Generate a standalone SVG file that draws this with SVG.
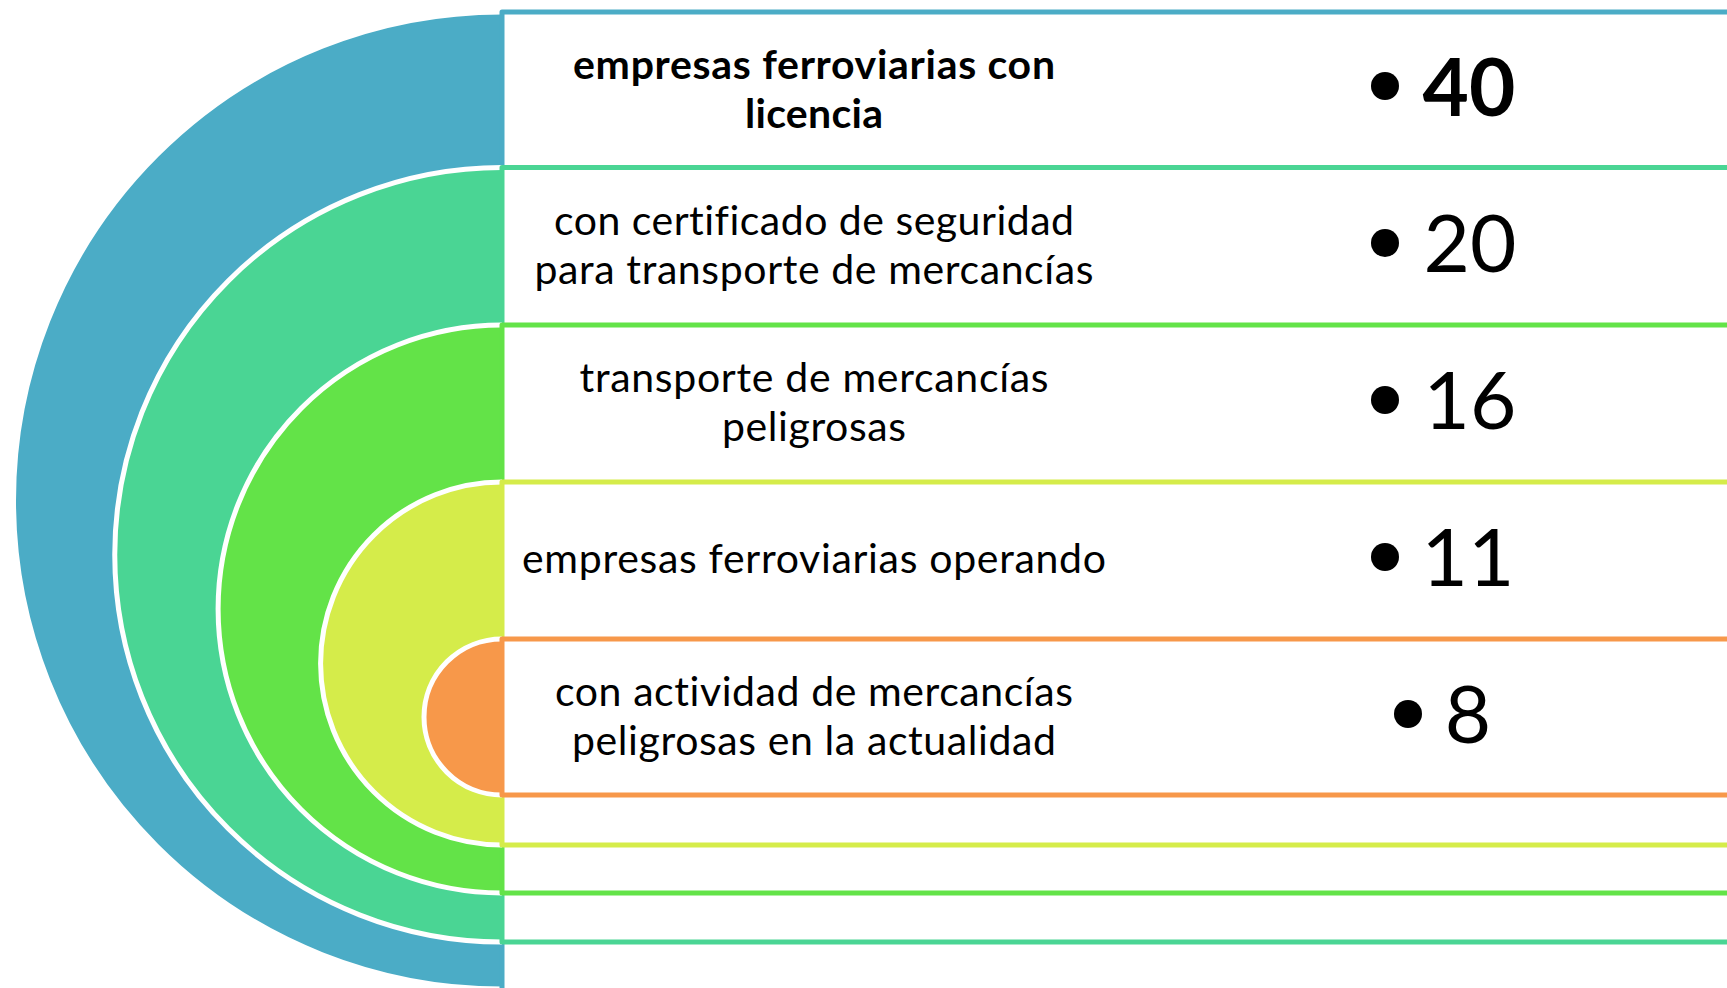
<svg xmlns="http://www.w3.org/2000/svg" width="1727" height="988" viewBox="0 0 1727 988">
<style>
.arc{stroke:#FFFFFF;stroke-width:5;}
.box{fill:#FFFFFF;stroke-width:5;stroke-linejoin:round;}
.lbl{font-family:Lato,"Open Sans",sans-serif;font-size:41px;fill:#000000;text-anchor:middle;font-variant-ligatures:none;}
.b{font-weight:bold;}
.num{font-family:Lato,"Open Sans",sans-serif;font-size:80px;fill:#000000;text-anchor:middle;}
.dot{fill:#000000;}
</style>
<rect width="1727" height="988" fill="#FFFFFF"/>
<g id="n1">
<path class="arc" fill="#4BACC6" d="M502 12 A488.5 488.5 0 0 0 502 989"/>
<rect class="box" stroke="#4BACC6" x="502" y="12" width="1300" height="1000"/>
<text class="lbl b" x="814" y="79" textLength="482">empresas ferroviarias con</text>
<text class="lbl b" x="814" y="128" textLength="138">licencia</text>
<circle class="dot" cx="1385" cy="86" r="14"/>
<text class="num b" x="1469" y="116">40</text>
</g>
<g id="n2">
<path class="arc" fill="#4AD594" d="M502 167.5 A387.25 387.25 0 0 0 502 942"/>
<rect class="box" stroke="#4AD594" x="502" y="167.5" width="1300" height="774.5"/>
<text class="lbl" x="814" y="235" textLength="520">con certificado de seguridad</text>
<text class="lbl" x="814" y="284" textLength="559">para transporte de mercancías</text>
<circle class="dot" cx="1385" cy="243" r="14"/>
<text class="num" x="1470" y="272">20</text>
</g>
<g id="n3">
<path class="arc" fill="#63E348" d="M502 325 A284 284 0 0 0 502 893"/>
<rect class="box" stroke="#63E348" x="502" y="325" width="1300" height="568"/>
<text class="lbl" x="814" y="392" textLength="469">transporte de mercancías</text>
<text class="lbl" x="814" y="441" textLength="184">peligrosas</text>
<circle class="dot" cx="1385" cy="400" r="14"/>
<text class="num" x="1470" y="429">16</text>
</g>
<g id="n4">
<path class="arc" fill="#D5EC4A" d="M502 482 A181.5 181.5 0 0 0 502 845"/>
<rect class="box" stroke="#D5EC4A" x="502" y="482" width="1300" height="363"/>
<text class="lbl" x="814" y="573" textLength="584">empresas ferroviarias operando</text>
<circle class="dot" cx="1385" cy="557" r="14"/>
<text class="num" x="1468" y="586">11</text>
</g>
<g id="n5">
<path class="arc" fill="#F7984A" d="M502 639 A78 78 0 0 0 502 795"/>
<rect class="box" stroke="#F7984A" x="502" y="639" width="1300" height="156"/>
<text class="lbl" x="814" y="706" textLength="518">con actividad de mercancías</text>
<text class="lbl" x="814" y="755" textLength="484">peligrosas en la actualidad</text>
<circle class="dot" cx="1408" cy="714" r="14"/>
<text class="num" x="1468" y="743">8</text>
</g>
</svg>
